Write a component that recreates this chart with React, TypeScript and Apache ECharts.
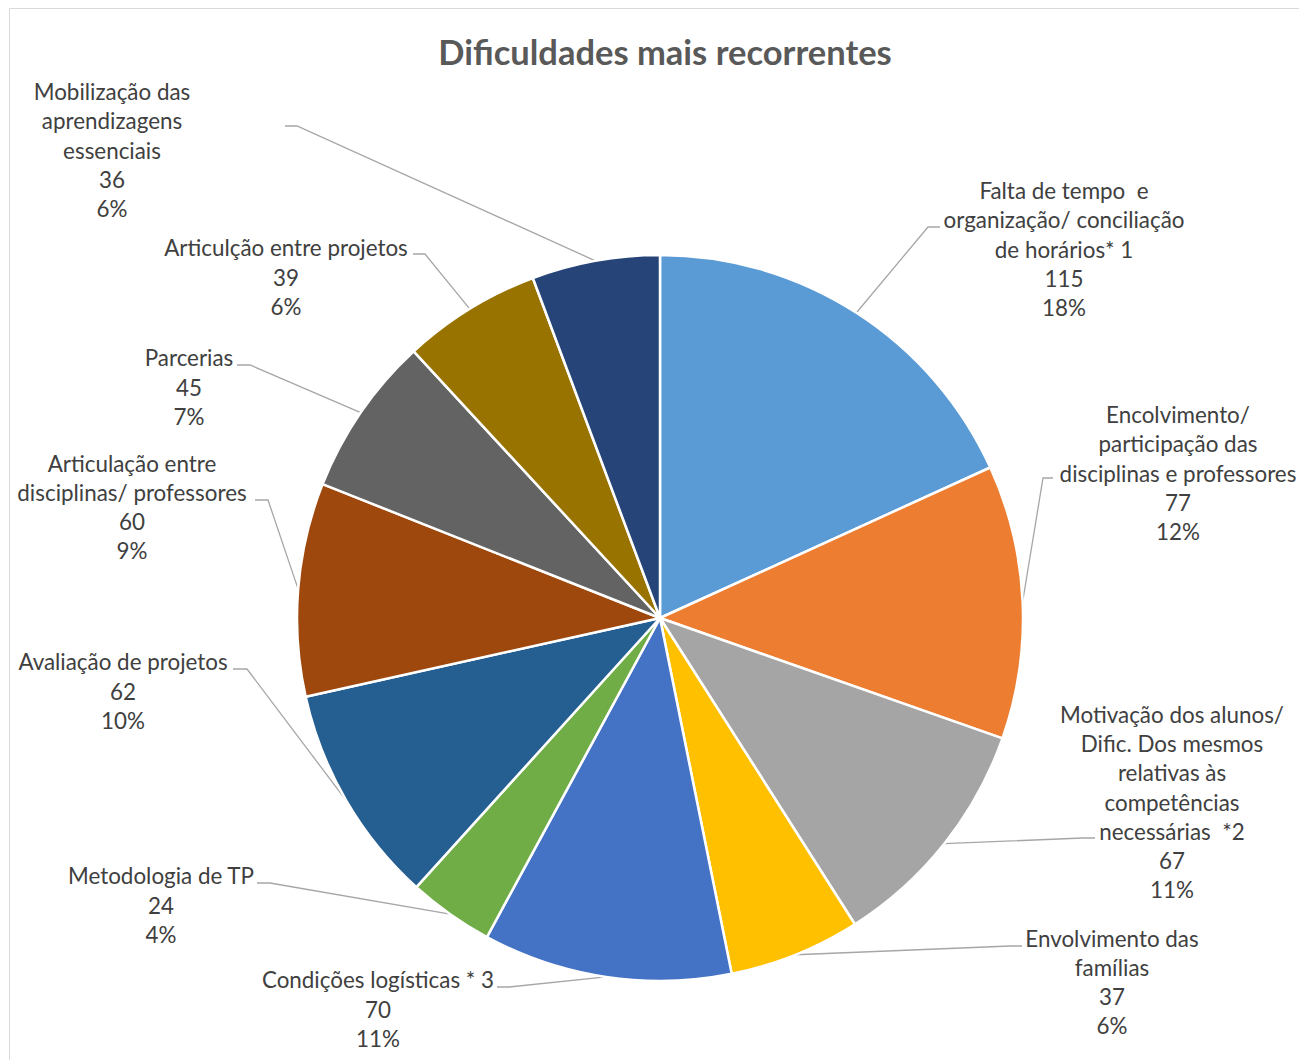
import React, { useEffect, useRef } from 'react';
import * as echarts from 'echarts';

const chartTitle = 'Dificuldades mais recorrentes';

const categories = [
  'Falta de tempo  e\norganização/ conciliação\nde horários* 1',
  'Encolvimento/\nparticipação das\ndisciplinas e professores',
  'Motivação dos alunos/\nDific. Dos mesmos\nrelativas às\ncompetências\nnecessárias  *2',
  'Envolvimento das\nfamílias',
  'Condições logísticas * 3',
  'Metodologia de TP',
  'Avaliação de projetos',
  'Articulação entre\ndisciplinas/ professores',
  'Parcerias',
  'Articulção entre projetos',
  'Mobilização das\naprendizagens\nessenciais',
];

const values = [115, 77, 67, 37, 70, 24, 62, 60, 45, 39, 36];

const colors = [
  '#5B9BD5', '#ED7D31', '#A5A5A5', '#FFC000', '#4472C4', '#70AD47',
  '#255E91', '#9E480E', '#636363', '#997300', '#264478',
];

// label placement (layout only): centre of each label block
const labelCenters = [
  [1064, 249], [1178, 473], [1172, 802], [1112, 982], [378, 1009], [161, 905],
  [123, 691], [132, 507], [189, 387], [286, 277], [112, 150],
];
// leader line end (at label) and elbow x
const leaderEnds = [
  [940, 227, 928], [1053, 478, 1043], [1095, 838, 1083], [1022, 946, 1010],
  [497, 987, 509], [257, 883, 270], [233, 669, 247], [255, 500, 268],
  [237, 365, 250], [413, 254, 425], [285, 126, 297],
];

export default function App() {
  const ref = useRef<HTMLDivElement>(null);
  useEffect(() => {
    if (!ref.current) return;
    const chart = echarts.init(ref.current, undefined, { renderer: 'svg' });
    chart.setOption({
      animation: false,
      backgroundColor: '#ffffff',
      title: {
        text: chartTitle,
        left: 660,
        top: 29,
        textAlign: 'center',
        textStyle: {
          fontFamily: 'Lato',
          fontWeight: 'bold',
          fontSize: 34.5,
          color: '#595959',
        },
      },
      graphic: [
        {
          type: 'rect',
          silent: true,
          z: -10,
          shape: { x: 9.5, y: 8.5, width: 1400, height: 1200 },
          style: { fill: 'none', stroke: '#D9D9D9', lineWidth: 1 },
        },
      ],
      series: [
        {
          type: 'pie',
          center: [660, 618],
          radius: 363,
          startAngle: 90,
          clockwise: true,
          avoidLabelOverlap: false,
          data: categories.map((name, i) => ({
            name,
            value: values[i],
            itemStyle: { color: colors[i] },
          })),
          itemStyle: { borderColor: '#ffffff', borderWidth: 2.5 },
          label: {
            show: true,
            position: 'outside',
            fontFamily: 'Lato',
            fontSize: 22.4,
            lineHeight: 29.3,
            color: '#404040',
            width: 400,
            overflow: 'none',
            formatter: (p: any) => `${p.name}\n${p.value}\n${Math.round(p.percent)}%`,
          },
          labelLine: {
            show: true,
            length: 20,
            length2: 10,
            lineStyle: { color: '#A6A6A6', width: 1.3 },
          },
          labelLayout: (p: any) => {
            const i = p.dataIndex;
            const c = labelCenters[i];
            const e = leaderEnds[i];
            const start = p.labelLinePoints ? p.labelLinePoints[0] : [e[2], e[1]];
            return {
              x: c[0],
              y: c[1],
              align: 'center',
              verticalAlign: 'middle',
              labelLinePoints: [start, [e[2], e[1]], [e[0], e[1]]],
            };
          },
          emphasis: { disabled: true },
        },
      ],
    });
    return () => chart.dispose();
  }, []);
  return (
    <div
      ref={ref}
      style={{ position: 'absolute', left: 0, top: 0, width: 1299, height: 1060 }}
    />
  );
}
